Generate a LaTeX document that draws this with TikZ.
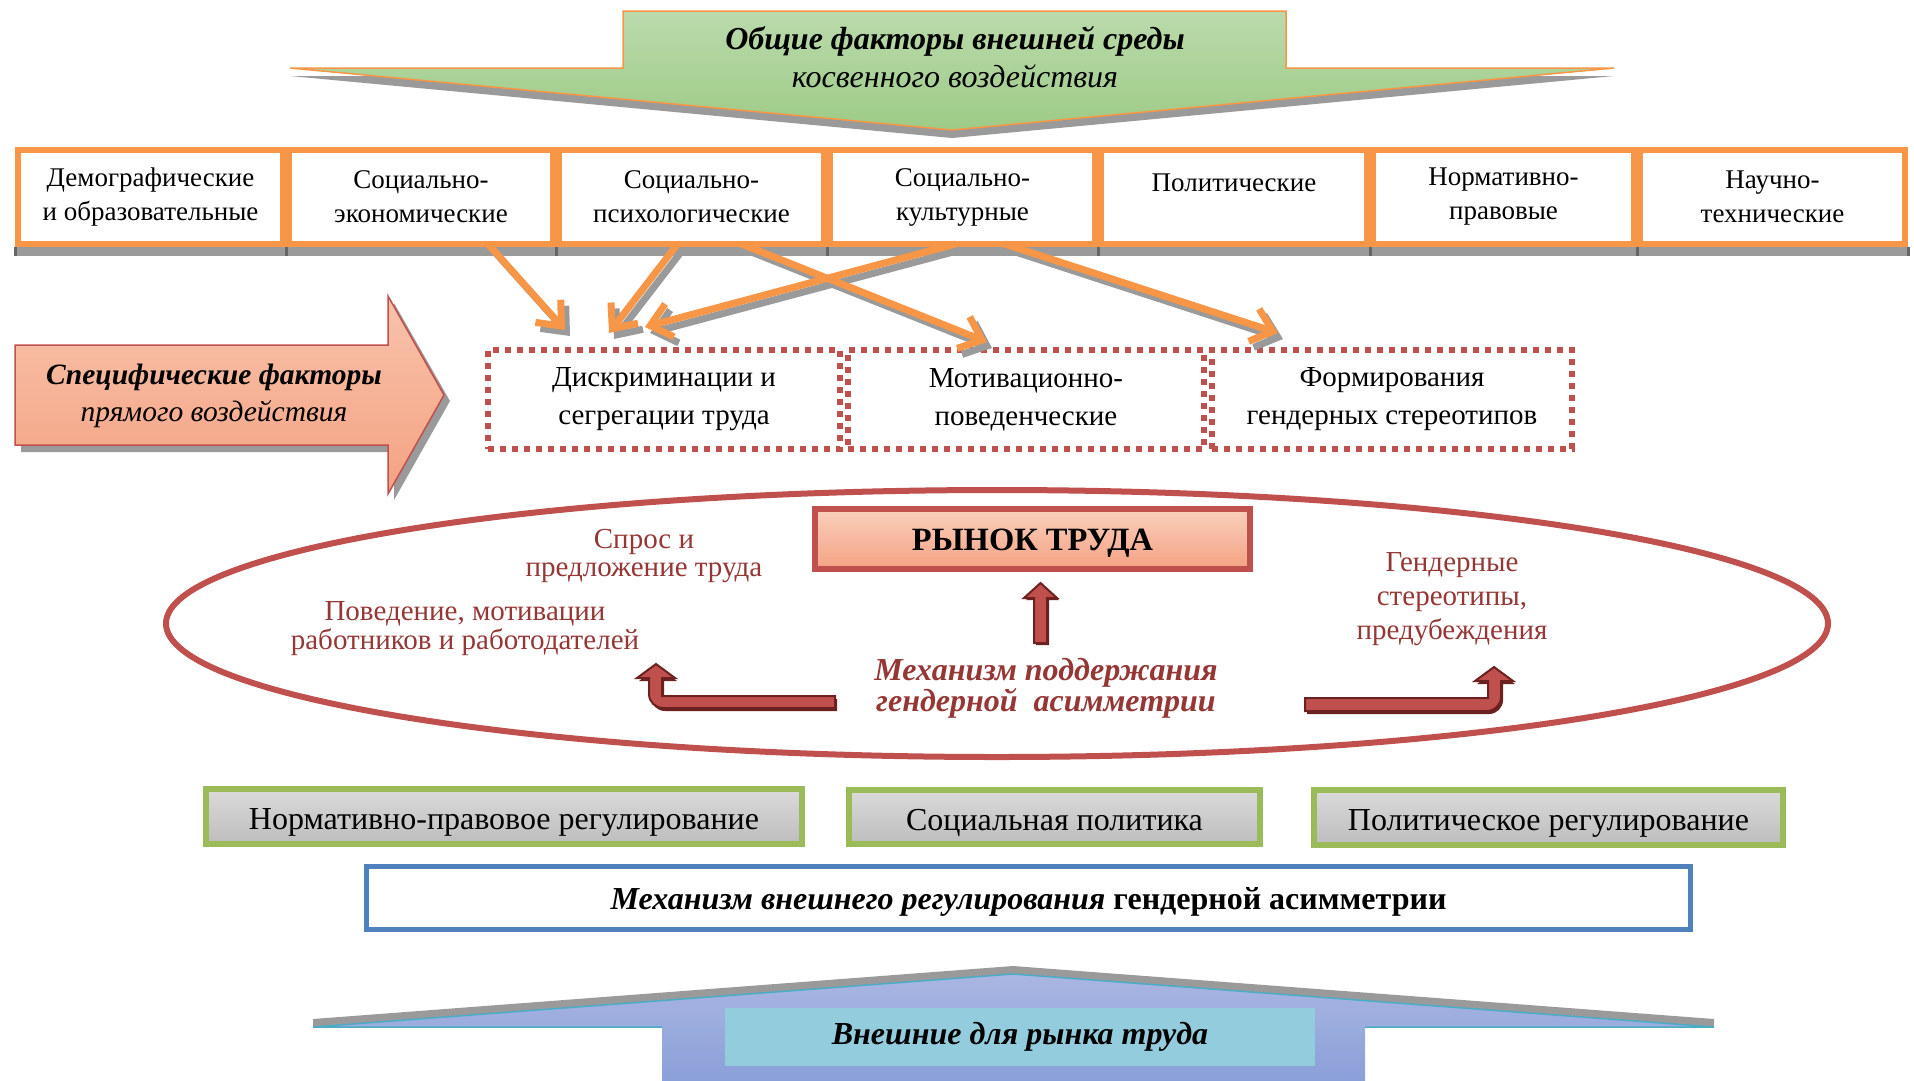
\documentclass[tikz,border=0pt]{standalone}
\usepackage{fontspec}
\setmainfont{Liberation Serif}
\usetikzlibrary{arrows.meta,calc,shapes.geometric}
\definecolor{orng}{HTML}{F79646}
\definecolor{rd}{HTML}{C0504D}
\definecolor{drd}{HTML}{953735}
\definecolor{ddrd}{HTML}{6B2120}
\definecolor{grn}{HTML}{9BBB59}
\definecolor{blu}{HTML}{4F81BD}
\definecolor{shd}{HTML}{9A9A9A}
\definecolor{gtop}{HTML}{BBDAAC}
\definecolor{gbot}{HTML}{9DCB86}
\definecolor{stop}{HTML}{F8C3AB}
\definecolor{sbot}{HTML}{F4A283}
\definecolor{btop}{HTML}{AAB6E2}
\definecolor{bbot}{HTML}{8AA0D8}
\definecolor{teal}{HTML}{4BACC6}
\definecolor{tealbox}{HTML}{93CDDD}
\definecolor{grytop}{HTML}{DADADA}
\definecolor{grybot}{HTML}{BDBDBD}
\tikzset{
  rowbox/.style={draw=orng, line width=6, fill=white, minimum height=94, inner sep=0, outer sep=0, align=center, font=\fontsize{27}{34}\selectfont},
  dotbox/.style={draw=rd, line width=6, dash pattern=on 6 off 6, minimum height=99, inner sep=0, outer sep=0, align=center, font=\fontsize{29}{38}\selectfont},
  oarrow/.style={draw=orng, line width=7, -{Straight Barb[length=20, width=34]}},
  sarrow/.style={draw=shd, line width=7, -{Straight Barb[length=20, width=34]}},
  redtxt/.style={text=drd, align=center, font=\fontsize{29}{28}\selectfont},
  bentarrow/.style={fill=rd, draw=ddrd, line width=2},
  gbox/.style={draw=grn, line width=6, top color=grytop, bottom color=grybot, inner sep=0, outer sep=0, text height=26, text depth=0, font=\fontsize{32}{34}\selectfont},
}
\begin{document}
\begin{tikzpicture}[x=1pt,y=-1pt]
\useasboundingbox (0,0) rectangle (1914,1080);
\fill[white] (0,0) rectangle (1914,1080);
% top arrow
\fill[shd] (623,19) -- (1286,19) -- (1286,76) -- (1614,76) -- (952,138) -- (290,76) -- (623,76) -- cycle;
\shade[top color=gtop, bottom color=gbot, draw=orng, line width=1.5] (623,11) -- (1286,11) -- (1286,68) -- (1614,68) -- (952,130) -- (290,68) -- (623,68) -- cycle;
\node[align=center, font=\fontsize{32}{38}\selectfont] (top) at (955,57) {{\bfseries\itshape Общие факторы внешней среды}\\{\itshape косвенного воздействия}};
% row of factor boxes
\fill[shd] (15,247) rectangle (1908,256);
\foreach \x in {15,286,556,827,1098,1370,1637,1908} \fill[black!60] (\x-1.5,247) rectangle (\x+1.5,256);
\node[rowbox, minimum width=265] (b1) at (150.5,197) {Демографические\\и образовательные};
\node[rowbox, minimum width=264] (b2) at (421,197) {Социально-\\экономические};
\node[rowbox, minimum width=265] (b3) at (691.5,197) {Социально-\\психологические};
\node[rowbox, minimum width=265] (b4) at (962.5,197) {Социально-\\культурные};
\node[rowbox, minimum width=266] (b5) at (1234,197) {};
\node[font=\fontsize{27}{34}\selectfont] (b5t) at (1234,183) {Политические};
\node[rowbox, minimum width=261] (b6) at (1503.5,197) {Нормативно-\\правовые};
\node[rowbox, minimum width=265] (b7) at (1772.5,197) {Научно-\\технические};
% specific factors arrow
\fill[shd] (21,351) -- (394,351) -- (394,303) -- (450,401) -- (394,500) -- (394,452) -- (21,452) -- cycle;
\shade[top color=stop, bottom color=sbot, draw=rd, line width=1.5] (15,345) -- (388,345) -- (388,296) -- (444,395) -- (388,494) -- (388,445) -- (15,445) -- cycle;
\node[align=center, font=\fontsize{29.5}{37}\selectfont] (spec) at (214,396) {{\bfseries\itshape Специфические факторы}\\{\itshape прямого воздействия}};
% dotted boxes
\node[dotbox, minimum width=352] (d1) at (664,399.5) {Дискриминации и\\сегрегации труда};
\node[dotbox, minimum width=356] (d2) at (1026,399.5) {Мотивационно-\\поведенческие};
\node[dotbox, minimum width=360] (d3) at (1392,399.5) {Формирования\\гендерных стереотипов};
% orange connectors (shadows first)
\coordinate (s1) at ([xshift=67]b2.south);
\coordinate (s2) at ([xshift=-14]b3.south);
\coordinate (s3) at ([xshift=-7]b4.south);
\coordinate (s4) at ([xshift=50]b3.south);
\coordinate (s5) at ([xshift=42]b4.south);
\coordinate (e1) at ([xshift=-99,yshift=20]d1.north);
\coordinate (e2) at ([xshift=-55,yshift=17]d1.north);
\coordinate (e3) at ([xshift=-19,yshift=23]d1.north);
\coordinate (e4) at ([xshift=-39,yshift=8]d2.north);
\coordinate (e5) at ([xshift=-114,yshift=17]d3.north);
\foreach \a/\b in {s1/e1,s2/e2,s3/e3,s4/e4,s5/e5}
  \draw[sarrow] ([shift={(5,6)}]\a) -- ([shift={(5,6)}]\b);
\foreach \a/\b in {s1/e1,s2/e2,s3/e3,s4/e4,s5/e5}
  \draw[oarrow] (\a) -- (\b);
% ellipse
\node[draw=rd, line width=6, ellipse, minimum width=1662, minimum height=267, inner sep=0] (ell) at (997,623.5) {};
% labour market box
\node[draw=rd, line width=6, top color=stop!80!white, bottom color=sbot, minimum width=435, minimum height=60, inner sep=0, text height=23, text depth=1, font=\fontsize{32.5}{34}\selectfont\bfseries] (market) at (1032.5,539) {РЫНОК ТРУДА};
% red texts
\node[redtxt] (supply) at (644,556) {Спрос и\\предложение труда};
\node[redtxt, font=\fontsize{29}{29}\selectfont] (behav) at (465,629) {Поведение, мотивации\\работников и работодателей};
\node[redtxt, font=\fontsize{29}{34}\selectfont] (stereo) at (1452,599) {Гендерные\\стереотипы,\\предубеждения};
\node[align=center, text=drd, font=\fontsize{32}{31}\selectfont\bfseries\itshape] (mech) at (1046,688) {Механизм поддержания\\гендерной\ \ асимметрии};
% red arrows inside the ellipse
\fill[ddrd] (1036,645) -- (1036,600) -- (1026,600) -- (1042.5,585) -- (1059,600) -- (1049,600) -- (1049,645) -- cycle;
\filldraw[bentarrow] (1034,643) -- (1034,598) -- (1024,598) -- (1040.5,583) -- (1057,598) -- (1047,598) -- (1047,643) -- cycle;
\fill[ddrd] (837,699) -- (664,699) -- (664,681) -- (677,681) -- (658,667) -- (639,681) -- (651,681) -- (651,697) arc[start angle=180, end angle=90, radius=14] -- (837,711) -- cycle;
\filldraw[bentarrow] (835,696) -- (662,696) -- (662,678) -- (675,678) -- (656,664) -- (637,678) -- (649,678) -- (649,694) arc[start angle=180, end angle=90, radius=14] -- (835,708) -- cycle;
\fill[ddrd] (1307,701) -- (1490,701) -- (1490,684) -- (1477,684) -- (1496,670) -- (1515,684) -- (1503,684) -- (1503,700) arc[start angle=0, end angle=90, radius=14] -- (1307,714) -- cycle;
\filldraw[bentarrow] (1305,698) -- (1488,698) -- (1488,681) -- (1475,681) -- (1494,667) -- (1513,681) -- (1501,681) -- (1501,697) arc[start angle=0, end angle=90, radius=14] -- (1305,711) -- cycle;
% green regulation boxes
\node[gbox, minimum width=596, minimum height=55] (g1) at (504,816.5) {Нормативно-правовое регулирование};
\node[gbox, minimum width=411, minimum height=54] (g2) at (1054.5,817) {Социальная политика};
\node[gbox, minimum width=469, minimum height=55] (g3) at (1548.5,817.5) {Политическое регулирование};
% blue box
\node[draw=blu, line width=5, fill=white, minimum width=1324, minimum height=63, inner sep=0, text height=24, text depth=1, font=\fontsize{32}{34}\selectfont] (ext) at (1028.5,898) {{\bfseries\itshape Механизм внешнего регулирования} {\bfseries гендерной асимметрии}};
% bottom arrow
\fill[shd] (313,1019) -- (1013,966) -- (1714,1019) -- (1714,1027) -- (313,1027) -- cycle;
\shade[top color=btop, bottom color=bbot] (313,1027) -- (1013,974) -- (1714,1027) -- (1365,1027) -- (1365,1081) -- (662,1081) -- (662,1027) -- cycle;
\draw[teal, line width=1.5] (662,1027) -- (313,1027) -- (1013,974) -- (1714,1027) -- (1365,1027);
\node[fill=tealbox, minimum width=590, minimum height=58, inner sep=0, font=\fontsize{32}{34}\selectfont\bfseries\itshape] (extl) at (1020,1037) {Внешние для рынка труда};
\end{tikzpicture}
\end{document}
